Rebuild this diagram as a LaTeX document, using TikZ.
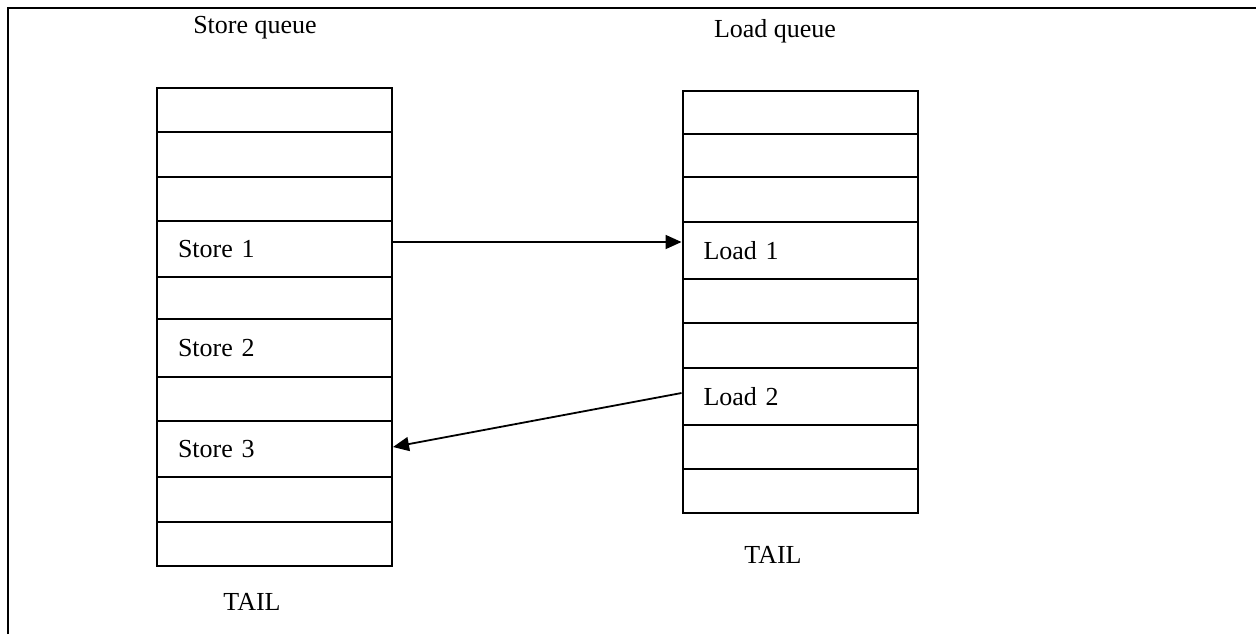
\documentclass[tikz,border=0pt]{standalone}
\usepackage{fontspec}
\setmainfont{Liberation Serif}
\usetikzlibrary{arrows.meta}
\tikzset{
  cell/.style={draw, line width=1pt, rectangle, inner ysep=0pt, inner xsep=10.5pt,
    text width=96.5pt, align=left, font=\fontsize{13}{15.6}\selectfont},
  title/.style={inner sep=0pt, font=\fontsize{13}{15.6}\selectfont},
  arr/.style={line width=0.9pt, -{Triangle[length=8pt,width=7pt]}},
  frame/.style={line width=1.4pt}
}
\begin{document}
\begin{tikzpicture}[x=0.5pt,y=-0.5pt]
\useasboundingbox (0,0) rectangle (1256,634);
\coordinate (fbl) at (8,634);
\coordinate (ftl) at (8,8);
\coordinate (ftr) at (1256,8);
\draw[frame] (fbl) -- (ftl) -- (ftr);

\node[title] (sq) at (255,28) {Store queue};
\node[title] (lq) at (775,31) {Load queue};
\node[title] (st) at (252,602) {TAIL};
\node[title] (lt) at (773,555) {TAIL};

\foreach \n/\c/\h/\t in {1/110/44/{},2/154.5/45/{},3/199/44/{},4/249/56/{Store 1},
  5/298/42/{},6/348/58/{Store 2},7/399/44/{},8/449/56/{Store 3},9/499.5/45/{},10/544/44/{}}
  \node[cell, minimum height=\h*0.5pt] (s\n) at (274.5,\c) {\t};

\foreach \n/\c/\h/\t in {1/112.5/43/{},2/155.5/43/{},3/199.5/45/{},4/250.5/57/{Load 1},
  5/301/44/{},6/345.5/45/{},7/396.5/57/{Load 2},8/447/44/{},9/491/44/{}}
  \node[cell, minimum height=\h*0.5pt] (l\n) at (800,\c) {\t};

\draw[arr] ([yshift=3.5pt]s4.east) -- ([yshift=3.5pt]s4.east -| l4.west);
\draw[arr] ([yshift=1.75pt]l7.west) -- ([yshift=1pt]s8.east);
\end{tikzpicture}
\end{document}
